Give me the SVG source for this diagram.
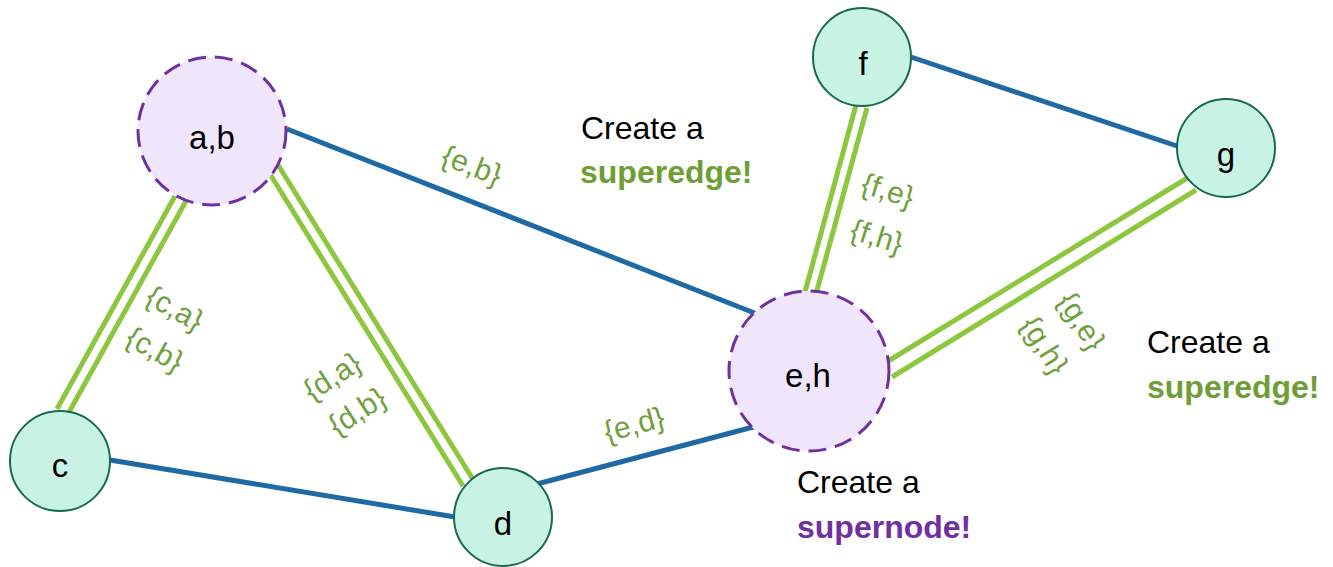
<svg xmlns="http://www.w3.org/2000/svg" width="1333" height="567" viewBox="0 0 1333 567">
<style>
.blue{stroke:#1f6aa5;stroke-width:5;fill:none}
.green{stroke:#8dc63f;stroke-width:5;fill:none}
.node{fill:#c8f3e4;stroke:#17694f;stroke-width:2}
.super{fill:#efe6fc;stroke:#7030a0;stroke-width:3;stroke-dasharray:18 9}
.nl{font-family:"Liberation Sans",Arial,sans-serif;font-size:33px;fill:#000;text-anchor:middle}
.el{font-family:"Liberation Sans",Arial,sans-serif;font-size:30px;fill:#70a040;text-anchor:middle;dominant-baseline:central}
.note{font-family:"Liberation Sans",Arial,sans-serif;font-size:32px;fill:#000}
.bg{font-weight:bold;fill:#6e9e35}
.bp{font-weight:bold;fill:#7030a0}
</style>
<rect width="1333" height="567" fill="#fff"/>
<g id="connectors">
  <line class="blue" x1="287" y1="129" x2="757" y2="314"/>
  <line class="blue" x1="110" y1="460" x2="455" y2="517"/>
  <line class="blue" x1="537" y1="484" x2="757" y2="426"/>
  <line class="blue" x1="911" y1="57" x2="1180" y2="147"/>
  <line class="green" x1="175" y1="196" x2="57" y2="409"/>
  <line class="green" x1="186" y1="201" x2="68" y2="414"/>
  <line class="green" x1="265" y1="166" x2="463" y2="486"/>
  <line class="green" x1="275" y1="160" x2="474" y2="481"/>
  <line class="green" x1="856" y1="105" x2="805" y2="292"/>
  <line class="green" x1="867" y1="108" x2="816" y2="294"/>
  <line class="green" x1="1189" y1="177" x2="885" y2="363"/>
  <line class="green" x1="1196" y1="190" x2="892" y2="377"/>
  <text class="el" transform="translate(472,165) rotate(21)">{e,b}</text>
  <text class="el" transform="translate(175,308) rotate(29)">{c,a}</text>
  <text class="el" transform="translate(155,349) rotate(29)">{c,b}</text>
  <text class="el" transform="translate(332,376) rotate(-33)">{d,a}</text>
  <text class="el" transform="translate(357,411) rotate(-33)">{d,b}</text>
  <text class="el" transform="translate(634,424) rotate(-15)">{e,d}</text>
  <text class="el" transform="translate(888,190) rotate(17)">{f,e}</text>
  <text class="el" transform="translate(877,236) rotate(17)">{f,h}</text>
  <text class="el" transform="translate(1082,321) rotate(58)">{g,e}</text>
  <text class="el" transform="translate(1045,345) rotate(58)">{g,h}</text>
</g>
<g id="node-ab"><circle class="super" cx="212" cy="131" r="74"/><text class="nl" x="212" y="149">a,b</text></g>
<g id="node-c"><circle class="node" cx="60" cy="461" r="50"/><text class="nl" x="60" y="477">c</text></g>
<g id="node-d"><circle class="node" cx="503" cy="517" r="49"/><text class="nl" x="503" y="535">d</text></g>
<g id="node-eh"><circle class="super" cx="809" cy="371" r="80"/><text class="nl" x="808" y="387">e,h</text></g>
<g id="node-f"><circle class="node" cx="862" cy="57" r="49"/><text class="nl" x="863" y="75">f</text></g>
<g id="node-g"><circle class="node" cx="1226" cy="148" r="49"/><text class="nl" x="1226" y="166">g</text></g>
<g id="notes">
  <text class="note" x="581" y="139">Create a</text>
  <text class="note bg" x="580" y="183">superedge!</text>
  <text class="note" x="1147" y="353">Create a</text>
  <text class="note bg" x="1147" y="398">superedge!</text>
  <text class="note" x="797" y="493">Create a</text>
  <text class="note bp" x="797" y="538">supernode!</text>
</g>
</svg>
